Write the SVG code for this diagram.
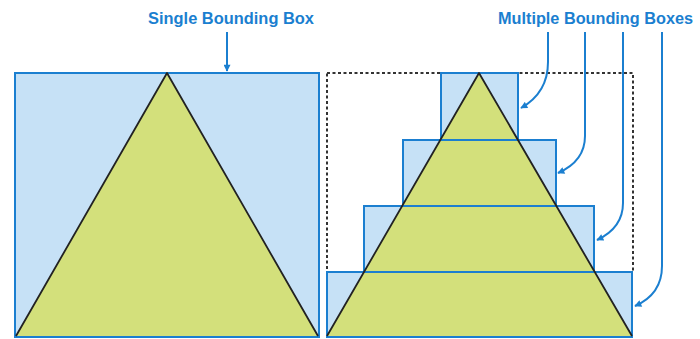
<svg xmlns="http://www.w3.org/2000/svg" width="700" height="339" viewBox="0 0 700 339">
<style>
.box{fill:#c6e1f6;stroke:#1b7fd0;stroke-width:2}
.line{fill:none;stroke:#1b7fd0;stroke-width:2}
.tri{fill:#d3e07b;stroke:none}
.edge{fill:none;stroke:#222;stroke-width:1.8;stroke-linejoin:round}
.dot{fill:none;stroke:#333;stroke-width:2;stroke-dasharray:3 2.5}
.lbl{font-family:"Liberation Sans",Arial,sans-serif;font-weight:bold;font-size:16px;fill:#1b7fd0}
.conn{fill:none;stroke:#1b7fd0;stroke-width:2}
</style>
<defs>
<marker id="ah" viewBox="0 0 10 10" refX="9" refY="5" markerWidth="8" markerHeight="7" markerUnits="userSpaceOnUse" orient="auto">
<path d="M0,0 L10,5 L0,10 z" fill="#1b7fd0"/>
</marker>
</defs>
<rect width="700" height="339" fill="#fff"/>
<g id="single">
<rect class="box" x="15" y="73" width="304" height="264"/>
<polygon class="tri" points="167,73 16,336 318,336"/>
<polyline class="edge" points="16,336 167,73 318,336"/>
</g>
<g id="multiple">
<rect class="dot" x="327" y="73" width="306" height="199"/>
<rect class="box" x="441" y="73" width="77" height="67"/>
<rect class="box" x="403" y="140" width="153" height="66"/>
<rect class="box" x="364" y="206" width="230" height="66"/>
<rect class="box" x="327" y="272" width="305" height="65"/>
<polygon class="tri" points="479,73 327,336 632,336"/>
<line class="line" x1="440" y1="140" x2="518" y2="140"/>
<line class="line" x1="402" y1="206" x2="556" y2="206"/>
<line class="line" x1="364" y1="272" x2="594" y2="272"/>
<line class="line" x1="327" y1="337" x2="632" y2="337"/>
<polyline class="edge" points="327,336 479,73 632,336"/>
</g>
<g id="label-single">
<text class="lbl" x="148" y="24" textLength="166" lengthAdjust="spacingAndGlyphs">Single Bounding Box</text>
</g>
<g id="label-multiple">
<text class="lbl" x="498" y="24" textLength="195" lengthAdjust="spacingAndGlyphs">Multiple Bounding Boxes</text>
</g>
<g id="connectors">
<path class="conn" d="M227,32 V71" marker-end="url(#ah)"/>
<path class="conn" d="M548,32 V62 C548,85 537,99 521,108" marker-end="url(#ah)"/>
<path class="conn" d="M585,32 V136 C585,155 574,166 558,173" marker-end="url(#ah)"/>
<path class="conn" d="M623,32 V203 C623,222 612,233 597,240" marker-end="url(#ah)"/>
<path class="conn" d="M662,32 V266 C662,287 651,299 635,306" marker-end="url(#ah)"/>
</g>
</svg>
